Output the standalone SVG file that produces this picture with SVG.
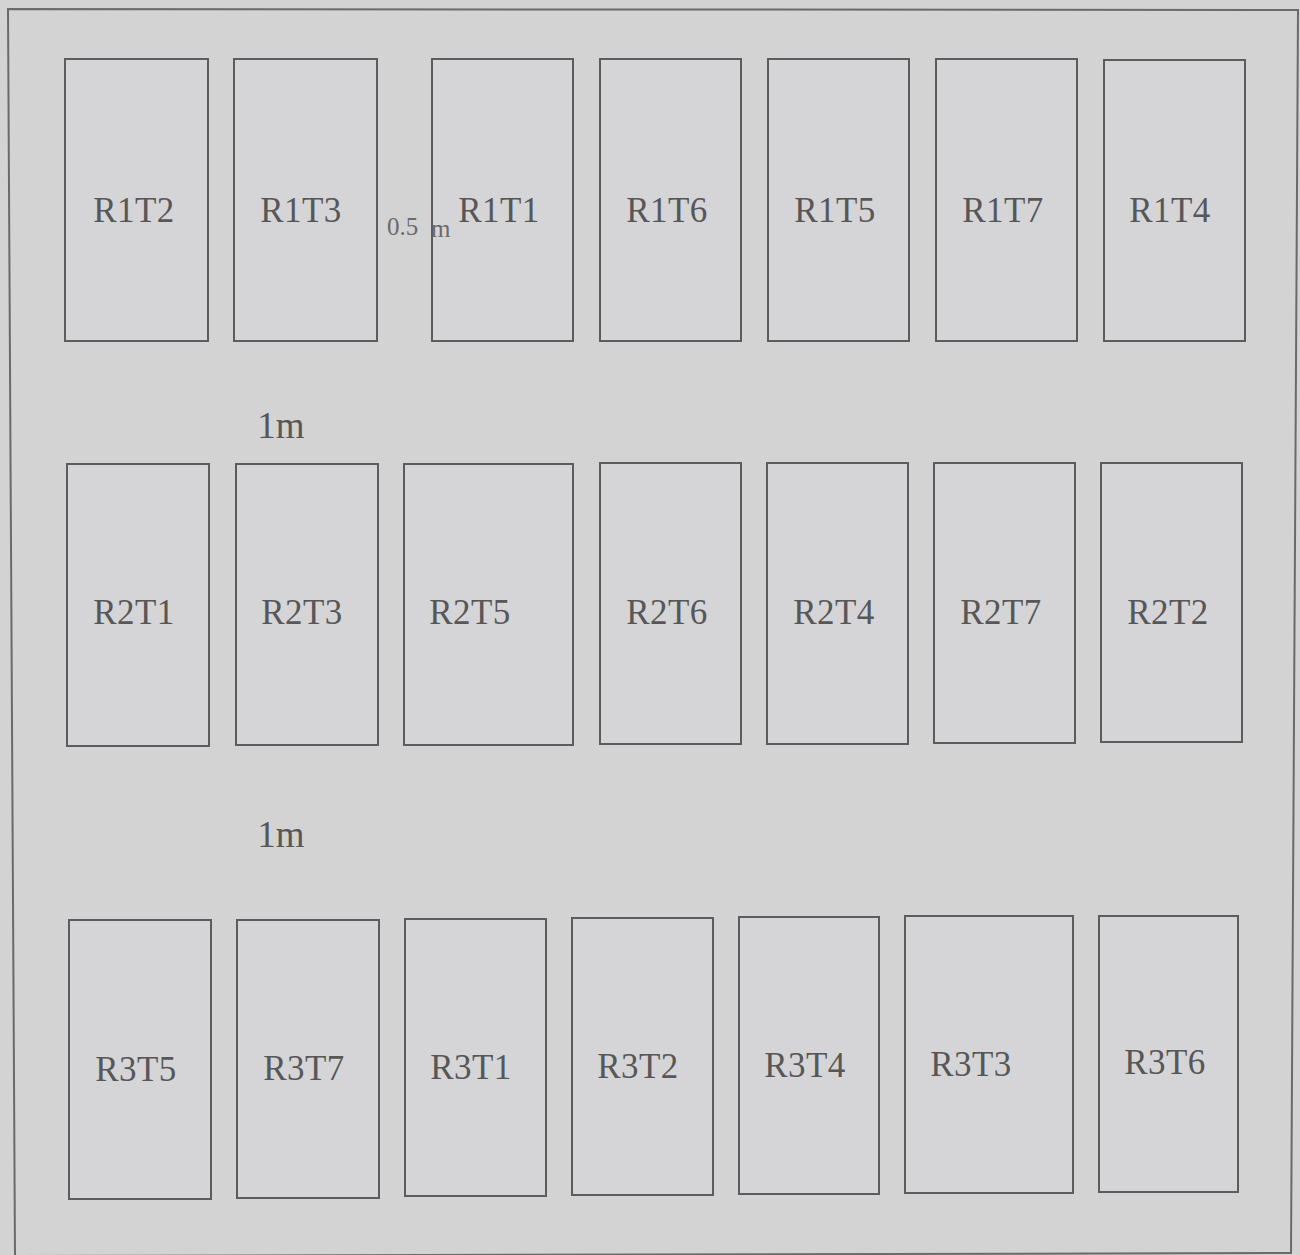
<svg xmlns="http://www.w3.org/2000/svg" width="1300" height="1255" viewBox="0 0 1300 1255">
<style>
.bg{fill:#d3d3d3}
.frame{fill:none;stroke:#6a6a6a;stroke-width:2}
.plot rect{fill:#d5d5d7;stroke:#5c5c5c;stroke-width:2}
.plot text,.lbl{font-family:"Liberation Serif","Times New Roman",serif;fill:#575757;text-anchor:middle}
.plot text{font-size:35px;letter-spacing:0.5px}
.lbl{font-size:37px}
.sm{font-size:25px;text-anchor:start;fill:#6a6a6a}
</style>
<rect class="bg" x="0" y="0" width="1300" height="1255"/>
<polygon class="frame" points="8,9 1298,10 1291,1253 15,1256"/>
<g id="R1T2" class="plot"><rect x="65" y="59" width="143" height="282"/><text x="134" y="222">R1T2</text></g>
<g id="R1T3" class="plot"><rect x="234" y="59" width="143" height="282"/><text x="301" y="222">R1T3</text></g>
<g id="R1T1" class="plot"><rect x="432" y="59" width="141" height="282"/><text x="499" y="222">R1T1</text></g>
<g id="R1T6" class="plot"><rect x="600" y="59" width="141" height="282"/><text x="667" y="222">R1T6</text></g>
<g id="R1T5" class="plot"><rect x="768" y="59" width="141" height="282"/><text x="835" y="222">R1T5</text></g>
<g id="R1T7" class="plot"><rect x="936" y="59" width="141" height="282"/><text x="1003" y="222">R1T7</text></g>
<g id="R1T4" class="plot"><rect x="1104" y="60" width="141" height="281"/><text x="1170" y="222">R1T4</text></g>

<g id="R2T1" class="plot"><rect x="67" y="464" width="142" height="282"/><text x="134" y="624">R2T1</text></g>
<g id="R2T3" class="plot"><rect x="236" y="464" width="142" height="281"/><text x="302" y="624">R2T3</text></g>
<g id="R2T5" class="plot"><rect x="404" y="464" width="169" height="281"/><text x="470" y="624">R2T5</text></g>
<g id="R2T6" class="plot"><rect x="600" y="463" width="141" height="281"/><text x="667" y="624">R2T6</text></g>
<g id="R2T4" class="plot"><rect x="767" y="463" width="141" height="281"/><text x="834" y="624">R2T4</text></g>
<g id="R2T7" class="plot"><rect x="934" y="463" width="141" height="280"/><text x="1001" y="624">R2T7</text></g>
<g id="R2T2" class="plot"><rect x="1101" y="463" width="141" height="279"/><text x="1168" y="624">R2T2</text></g>

<g id="R3T5" class="plot"><rect x="69" y="920" width="142" height="279"/><text x="136" y="1081">R3T5</text></g>
<g id="R3T7" class="plot"><rect x="237" y="920" width="142" height="278"/><text x="304" y="1080">R3T7</text></g>
<g id="R3T1" class="plot"><rect x="405" y="919" width="141" height="277"/><text x="471" y="1079">R3T1</text></g>
<g id="R3T2" class="plot"><rect x="572" y="918" width="141" height="277"/><text x="638" y="1078">R3T2</text></g>
<g id="R3T4" class="plot"><rect x="739" y="917" width="140" height="277"/><text x="805" y="1077">R3T4</text></g>
<g id="R3T3" class="plot"><rect x="905" y="916" width="168" height="277"/><text x="971" y="1076">R3T3</text></g>
<g id="R3T6" class="plot"><rect x="1099" y="916" width="139" height="276"/><text x="1165" y="1074">R3T6</text></g>

<text class="lbl" x="281" y="438">1m</text>
<text class="lbl" x="281" y="847">1m</text>
<text class="lbl sm" x="387" y="235">0.5<tspan x="431" y="237">m</tspan></text>
</svg>
